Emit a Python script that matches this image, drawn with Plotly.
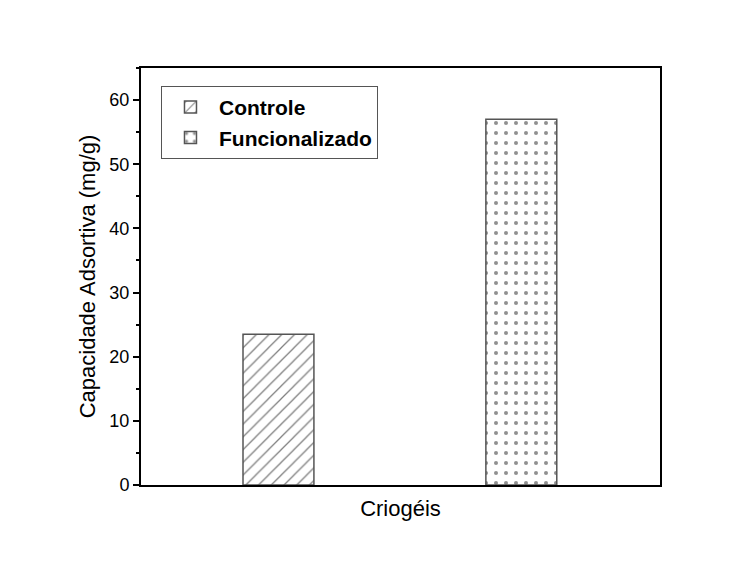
import plotly.graph_objects as go

categories = ["Controle", "Funcionalizado"]
values = [23.5, 57.0]
y_ticks = [0, 10, 20, 30, 40, 50, 60]

patterns = [
    dict(shape="/", fgcolor="#000000", bgcolor="white", size=9, solidity=0.14),
    dict(shape=".", fgcolor="#222222", bgcolor="white", size=10, solidity=0.13),
]

fig = go.Figure()
for cat, val, pat in zip(categories, values, patterns):
    fig.add_trace(go.Bar(
        x=[cat], y=[val], name=cat, width=0.292,
        marker=dict(color="white", pattern=pat,
                    line=dict(color="#555555", width=1.5)),
    ))

base_font = "Liberation Sans, Arial, sans-serif"

fig.update_layout(
    width=740, height=575,
    margin=dict(l=133, r=88, t=60, b=98),
    paper_bgcolor="white", plot_bgcolor="white",
    barmode="overlay",
    showlegend=True,
    legend=dict(
        x=0.0385, y=0.957, xanchor="left", yanchor="top",
        bordercolor="#555555", borderwidth=1, bgcolor="white",
        font=dict(family=base_font, size=21, color="black", weight="bold"),
        tracegroupgap=0, itemwidth=47,
    ),
    font=dict(family=base_font, size=18, color="black"),
    xaxis=dict(
        type="category", categoryorder="array", categoryarray=categories,
        range=[-0.566, 1.571],
        showticklabels=False, ticks="",
        showline=True, linecolor="black", linewidth=2, mirror=True,
        showgrid=False, zeroline=False,
        title=dict(text="Criogéis", font=dict(size=22), standoff=15),
    ),
    yaxis=dict(
        range=[0, 65], tickvals=y_ticks,
        ticks="outside", ticklen=6, tickwidth=1.5, tickcolor="black",
        minor=dict(ticks="outside", ticklen=3, tickwidth=1.5, tickcolor="black", dtick=5, showgrid=False),
        showline=True, linecolor="black", linewidth=2, mirror=True,
        showgrid=False, zeroline=False,
        tickfont=dict(size=18),
        title=dict(text="Capacidade Adsortiva (mg/g)", font=dict(size=22), standoff=8),
    ),
)

fig.write_html("out.html")
